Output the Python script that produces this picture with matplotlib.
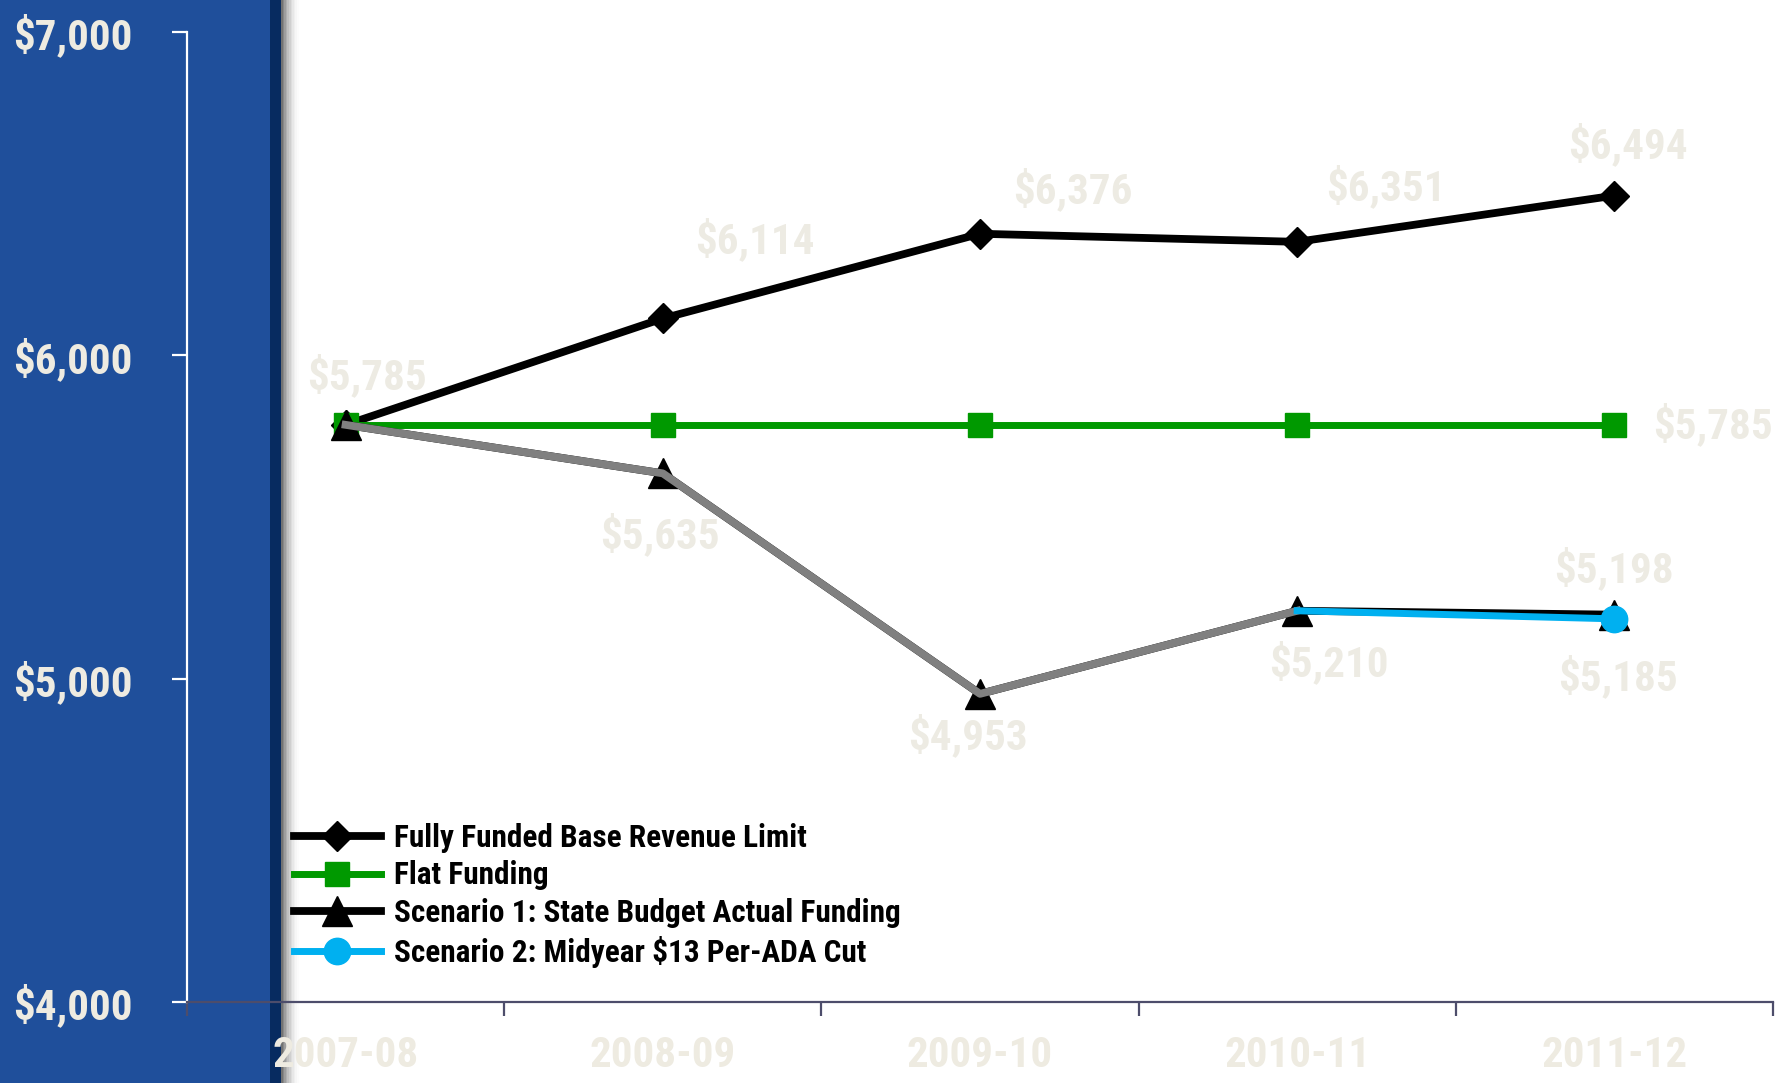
import matplotlib.pyplot as plt
from matplotlib.patches import Rectangle

years = ['2007-08', '2008-09', '2009-10', '2010-11', '2011-12']
fully_funded = [5785, 6114, 6376, 6351, 6494]
flat_funding = [5785, 5785, 5785, 5785, 5785]
scenario1 = [5785, 5635, 4953, 5210, 5198]
scenario2 = [5785, 5635, 4953, 5210, 5185]
y_ticks = [4000, 5000, 6000, 7000]

FONT = ['Roboto Condensed', 'DejaVu Sans']
TXT = dict(family=FONT, fontweight='bold', fontstretch='condensed')
CREAM = '#EEEBE1'
LABEL = '#EDEBE3'
W, H = 1776, 1083

fig = plt.figure(figsize=(W / 100, H / 100), dpi=100)
fig.patch.set_facecolor('white')

# blue side panel with dark edge and soft shadow
fig.patches.append(Rectangle((0, 0), 272 / W, 1, transform=fig.transFigure,
                             facecolor='#1F4F9B', edgecolor='none', zorder=-10))
fig.patches.append(Rectangle((270 / W, 0), 11 / W, 1, transform=fig.transFigure,
                             facecolor='#072B60', edgecolor='none', zorder=-9))
for i in range(12):
    fig.patches.append(Rectangle(((281 + i * 1.6) / W, 0), 1.6 / W, 1, transform=fig.transFigure,
                                 facecolor='black', alpha=0.55 * (1 - i / 12) ** 2,
                                 edgecolor='none', zorder=-9))

ax = fig.add_axes([187 / W, 1 - 1002 / H, (1773 - 187) / W, (1002 - 32) / H])
ax.set_facecolor('none')

x = [i + 0.5 for i in range(len(years))]

ax.plot(x, fully_funded, color='black', lw=5.6, marker='D', ms=15, zorder=3,
        label='Fully Funded Base Revenue Limit')
ax.plot(x, flat_funding, color='#009900', lw=5.0, marker='s', ms=17, zorder=3,
        label='Flat Funding')
ax.plot(x, scenario1, color='black', lw=5.6, marker='^', ms=22, zorder=4,
        label='Scenario 1: State Budget Actual Funding')
ax.plot(x[:4], scenario2[:4], color='#808080', lw=5.6, zorder=5)
ax.plot(x[3:], scenario2[3:], color='#00B0F0', lw=5.0, marker='o', ms=19,
        markevery=[1], zorder=5, label='Scenario 2: Midyear $13 Per-ADA Cut')

# data labels (offsets in pixels)
labels = [
    (0, fully_funded[0], 21, 49),
    (1, fully_funded[1], 92, 78),
    (2, fully_funded[2], 93, 44),
    (3, fully_funded[3], 89, 55),
    (4, fully_funded[4], 14, 50),
    (4, flat_funding[4], 99, 0),
    (1, scenario1[1], -3, -62),
    (2, scenario1[2], -12, -42),
    (3, scenario1[3], 32, -52),
    (4, scenario1[4], 0, 45),
    (4, scenario2[4], 4, -58),
]
for i, v, dx, dy in labels:
    ax.annotate(f'${v:,}', (x[i], v), xytext=(dx, dy), textcoords='offset pixels',
                ha='center', va='center', fontsize=31, color=LABEL,
                zorder=2, annotation_clip=False, **TXT)

ax.set_xlim(0, 5)
ax.set_ylim(4000, 7000)
ax.set_yticks(y_ticks)
ax.set_yticklabels([f'${v:,}' for v in y_ticks], fontsize=31, color=CREAM, **TXT)
ax.set_xticks(range(6))
ax.set_xticklabels([])
ax.set_xticks(x, minor=True)
ax.set_xticklabels(years, minor=True, fontsize=31, color=CREAM, **TXT)

ax.tick_params(axis='y', length=11, width=1.6, color='white', pad=28)
ax.tick_params(axis='x', which='major', length=10, width=1.6, color='#4D4D6B')
ax.tick_params(axis='x', which='minor', length=0, pad=24)

for s in ['top', 'right']:
    ax.spines[s].set_visible(False)
ax.spines['left'].set_color('white')
ax.spines['left'].set_linewidth(1.6)
ax.spines['bottom'].set_color('#4D4D6B')
ax.spines['bottom'].set_linewidth(1.6)

ax.legend(loc='upper left', bbox_to_anchor=(278 / W, 1 - 807 / H),
          bbox_transform=fig.transFigure, frameon=False, borderpad=0,
          handlelength=2.8, handletextpad=0.4, labelspacing=0.25, numpoints=1,
          prop={'family': FONT, 'weight': 'bold', 'stretch': 'condensed', 'size': 22.5})

fig.savefig('out.png', dpi=100)
